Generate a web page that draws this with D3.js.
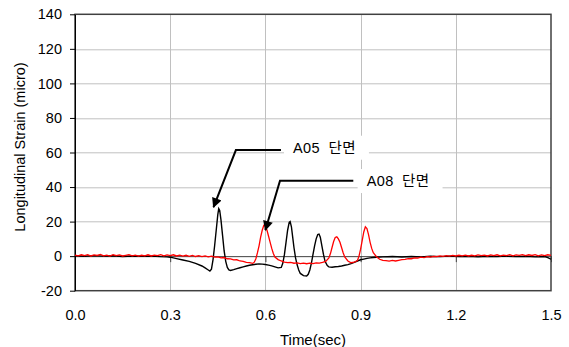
<!DOCTYPE html>
<html>
<head>
<meta charset="utf-8">
<script src="https://cdn.jsdelivr.net/npm/d3@7"></script>
<style>
  html, body { margin: 0; padding: 0; background: #fff; }
  svg { display: block; font-family: "Liberation Sans", Arial, "Noto Sans CJK KR", sans-serif; }
</style>
</head>
<body>
<div id="chart"></div>
<script>
// tick values
const X_TICKS = [0, 0.3, 0.6, 0.9, 1.2, 1.5]
const Y_TICKS = [-20, 0, 20, 40, 60, 80, 100, 120, 140]

// A05 section, black trace [time (sec), strain (micro)]
const a05 = [
  [0.00, 0.2], [0.03, -0.1], [0.06, 0.3], [0.09, 0.0], [0.12, 0.2], [0.15, -0.2], [0.18, 0.1],
  [0.21, -0.1], [0.24, 0.0], [0.27, -0.3], [0.29, -0.4], [0.30, -0.6], [0.32, -1.4], [0.34, -2.2],
  [0.36, -3.0], [0.38, -4.2], [0.40, -5.7], [0.41, -6.8], [0.42, -8.0], [0.425, -8.6], [0.43, -7.5],
  [0.435, -2], [0.44, 6], [0.445, 15], [0.45, 24], [0.453, 27.5], [0.456, 26.5], [0.46, 21],
  [0.465, 12], [0.47, 3], [0.475, -3], [0.48, -6.5], [0.485, -8.0], [0.49, -8.3], [0.50, -7.8],
  [0.51, -7.2], [0.52, -6.7], [0.53, -6.2], [0.54, -5.7], [0.55, -5.3], [0.56, -5.0], [0.57, -4.7],
  [0.58, -4.5], [0.59, -4.6], [0.60, -4.8], [0.61, -5.2], [0.62, -5.6], [0.63, -6.2], [0.64, -6.8],
  [0.65, -6.5], [0.655, -4], [0.66, 1], [0.665, 8], [0.67, 15], [0.675, 19.5], [0.678, 20],
  [0.682, 17], [0.686, 11], [0.69, 5], [0.695, -1], [0.70, -5], [0.705, -8], [0.71, -10],
  [0.72, -11.3], [0.73, -11.5], [0.735, -10.5], [0.74, -8], [0.745, -4], [0.75, 1], [0.755, 6],
  [0.76, 10], [0.765, 12.5], [0.769, 12.8], [0.773, 11], [0.778, 6], [0.783, 1], [0.788, -3],
  [0.795, -5.5], [0.80, -6.2], [0.81, -6.4], [0.82, -6.1], [0.83, -6.0], [0.84, -5.7], [0.85, -5.3],
  [0.86, -4.9], [0.87, -4.3], [0.88, -3.6], [0.89, -2.8], [0.90, -2.1], [0.91, -1.7], [0.92, -1.3],
  [0.93, -1.0], [0.94, -0.8], [0.95, -0.6], [0.97, -0.4], [1.00, -0.2], [1.03, -0.5], [1.06, -0.2],
  [1.09, -0.4], [1.12, -0.1], [1.15, -0.3], [1.18, 0.0], [1.21, -0.3], [1.24, -0.1], [1.27, -0.4],
  [1.30, -0.1], [1.33, -0.3], [1.36, 0.0], [1.39, -0.3], [1.42, -0.1], [1.45, -0.4], [1.48, -0.2],
  [1.49, -0.8], [1.50, -1.8]
]

// A08 section, red trace [time (sec), strain (micro)]
const a08 = [
  [0.00, 0.6], [0.01, 0.2], [0.02, 0.8], [0.03, 0.3], [0.04, 0.9], [0.05, 0.1], [0.06, 0.7],
  [0.07, 0.4], [0.08, 1.0], [0.09, 0.2], [0.10, 0.6], [0.11, 0.0], [0.12, 0.8], [0.13, 0.3],
  [0.14, 0.7], [0.15, 0.1], [0.16, 0.5], [0.17, 0.9], [0.18, 0.2], [0.19, 0.6], [0.20, 0.0],
  [0.21, 0.5], [0.22, 0.2], [0.23, 0.8], [0.24, 0.1], [0.25, 0.6], [0.26, 0.3], [0.27, 0.9],
  [0.28, 0.2], [0.29, 0.7], [0.30, 0.3], [0.31, 0.8], [0.32, 0.1], [0.33, 0.6], [0.34, 0.0],
  [0.35, 0.5], [0.36, -0.1], [0.37, 0.4], [0.38, -0.2], [0.39, 0.3], [0.40, -0.3], [0.41, 0.1],
  [0.42, -0.4], [0.43, 0.0], [0.44, -0.6], [0.45, -0.4], [0.46, -1.0], [0.47, -0.8], [0.48, -1.5],
  [0.49, -1.6], [0.50, -2.2], [0.51, -2.1], [0.52, -2.8], [0.53, -3.0], [0.54, -3.6], [0.55, -3.8],
  [0.56, -4.2], [0.565, -3.5], [0.57, -1.5], [0.575, 2], [0.58, 6], [0.585, 11], [0.59, 15],
  [0.595, 17.8], [0.60, 17.5], [0.605, 15], [0.61, 11.5], [0.615, 8], [0.62, 4.5], [0.625, 1.5],
  [0.63, -0.5], [0.64, -2], [0.65, -2.8], [0.66, -3.4], [0.67, -3.8], [0.68, -3.6], [0.69, -4.1],
  [0.70, -3.9], [0.71, -4.3], [0.72, -4.0], [0.73, -4.4], [0.74, -4.1], [0.75, -4.3], [0.76, -3.9],
  [0.77, -4.0], [0.78, -3.6], [0.79, -3.0], [0.80, -1.0], [0.805, 1.5], [0.81, 5], [0.815, 8.5],
  [0.82, 10.8], [0.825, 11.2], [0.83, 10], [0.835, 8], [0.84, 5], [0.845, 2], [0.85, -0.5],
  [0.86, -2.8], [0.87, -3.8], [0.88, -3.5], [0.89, -2.5], [0.895, 0], [0.90, 4], [0.905, 9],
  [0.91, 14], [0.915, 17], [0.92, 16], [0.925, 12.5], [0.93, 8], [0.935, 4.5], [0.94, 2],
  [0.95, -0.3], [0.96, -1.8], [0.97, -2.4], [0.98, -2.6], [0.99, -2.9], [1.00, -2.5], [1.01, -2.8],
  [1.02, -2.4], [1.03, -2.0], [1.04, -1.9], [1.05, -1.4], [1.06, -1.5], [1.07, -1.0], [1.08, -1.1],
  [1.09, -0.6], [1.10, -0.8], [1.11, -0.3], [1.12, -0.5], [1.13, -0.1], [1.14, -0.3], [1.15, 0.2],
  [1.16, -0.1], [1.17, 0.3], [1.18, 0.0], [1.19, 0.4], [1.20, 0.1], [1.21, 0.5], [1.22, 0.2],
  [1.23, 0.6], [1.24, 0.1], [1.25, 0.5], [1.26, 0.2], [1.27, 0.7], [1.28, 0.3], [1.29, 0.6],
  [1.30, 0.1], [1.31, 0.7], [1.32, 0.3], [1.33, 0.8], [1.34, 0.2], [1.35, 0.6], [1.36, 0.3],
  [1.37, 0.9], [1.38, 0.2], [1.39, 0.7], [1.40, 0.4], [1.41, 0.9], [1.42, 0.3], [1.43, 0.8],
  [1.44, 0.4], [1.45, 0.9], [1.46, 0.2], [1.47, 0.7], [1.48, 0.3], [1.49, 0.8], [1.50, 0.4]
]

// callouts in data units: arrow tip, elbow, end of horizontal leader, label
const callouts = [
  { label: 'A05 단면', tip: [0.4365, 28.4], elbow: [0.507, 61.4], end: [0.649, 61.4], text: [0.687, 62.9] },
  { label: 'A08 단면', tip: [0.600, 15.1], elbow: [0.646, 43.6], end: [0.877, 43.6], text: [0.919, 43.6] }
]

const W = 569, H = 347
const margin = { top: 14.3, right: 18, bottom: 56.3, left: 75 }
const width = W - margin.left - margin.right
const height = H - margin.top - margin.bottom

const svg = d3.select('#chart').append('svg')
  .attr('width', W)
  .attr('height', H)

svg.append('rect').attr('width', W).attr('height', H).attr('fill', '#fff')

const g = svg.append('g').attr('transform', `translate(${margin.left},${margin.top})`)

const x = d3.scaleLinear().domain([0, 1.5]).range([0, width])
const y = d3.scaleLinear().domain([-20, 140]).range([height, 0])

// gridlines
g.append('g').selectAll('line')
  .data(Y_TICKS.filter(v => v > 0 && v < 140))
  .join('line')
  .attr('x1', 0).attr('x2', width)
  .attr('y1', d => Math.round(y(d)) + 0.5).attr('y2', d => Math.round(y(d)) + 0.5)
  .attr('stroke', '#c0c0c0')
g.append('g').selectAll('line')
  .data(X_TICKS.filter(v => v > 0 && v < 1.5))
  .join('line')
  .attr('x1', d => Math.round(x(d)) + 0.5).attr('x2', d => Math.round(x(d)) + 0.5)
  .attr('y1', 0).attr('y2', height)
  .attr('stroke', '#c0c0c0')

// plot frame
g.append('rect')
  .attr('width', width).attr('height', height)
  .attr('fill', 'none').attr('stroke', '#404040').attr('stroke-width', 1.5)

// zero line with tick marks
const zeroAxis = g.append('g')
  .attr('transform', `translate(0,${y(0)})`)
  .call(d3.axisBottom(x).tickValues(X_TICKS).tickSize(6).tickSizeOuter(0).tickFormat(''))
zeroAxis.select('.domain').attr('stroke', '#404040')
zeroAxis.selectAll('.tick line').attr('stroke', '#404040')

// x tick labels below the plot
const xLab = g.append('g')
  .attr('transform', `translate(0,${height})`)
  .call(d3.axisBottom(x).tickValues(X_TICKS).tickSize(0).tickPadding(19).tickFormat(d => d.toFixed(1)))
xLab.select('.domain').remove()
xLab.selectAll('text').attr('font-size', '14.5px').attr('fill', '#000')
  .style('font-family', '"Liberation Sans", Arial, sans-serif')

// y axis
const yAx = g.append('g')
  .call(d3.axisLeft(y).tickValues(Y_TICKS).tickSize(5).tickSizeOuter(0).tickPadding(8).tickFormat(d => String(d)))
yAx.select('.domain').attr('stroke', '#000')
yAx.selectAll('.tick line').attr('stroke', '#000')
yAx.selectAll('text').attr('font-size', '14.5px').attr('fill', '#000')
  .style('font-family', '"Liberation Sans", Arial, sans-serif')

// traces
const line = d3.line().x(d => x(d[0])).y(d => y(d[1]))
g.append('path').datum(a05)
  .attr('d', line).attr('fill', 'none').attr('stroke', '#000').attr('stroke-width', 1.4)
g.append('path').datum(a08)
  .attr('d', line).attr('fill', 'none').attr('stroke', '#ff0000').attr('stroke-width', 1.3)

// arrow marker
svg.append('defs').append('marker')
  .attr('id', 'arrow')
  .attr('viewBox', '0 0 10 10')
  .attr('refX', 9).attr('refY', 5)
  .attr('markerUnits', 'userSpaceOnUse')
  .attr('markerWidth', 11).attr('markerHeight', 10)
  .attr('orient', 'auto')
  .append('path').attr('d', 'M0,0 L10,5 L0,10 Z').attr('fill', '#000')

// callouts
callouts.forEach(c => {
  const box = g.append('rect').attr('fill', '#fff')
  const t = g.append('text')
    .attr('x', x(c.text[0])).attr('y', y(c.text[1]))
    .attr('dy', '0.36em')
    .attr('font-size', '14.5px')
    .attr('word-spacing', '4px')
    .attr('letter-spacing', '0.4px')
    .attr('fill', '#000')
    .text(c.label)
  const bb = t.node().getBBox()
  box.attr('x', bb.x - 9).attr('y', bb.y + bb.height / 2 - 12)
    .attr('width', bb.width + 22).attr('height', 24)
  g.append('path')
    .attr('d', d3.line()([[x(c.end[0]), y(c.end[1])], [x(c.elbow[0]), y(c.elbow[1])], [x(c.tip[0]), y(c.tip[1])]]))
    .attr('fill', 'none').attr('stroke', '#000').attr('stroke-width', 2)
    .attr('marker-end', 'url(#arrow)')
})

// axis titles
svg.append('text')
  .attr('x', margin.left + width / 2).attr('y', 340)
  .attr('dy', '0.36em')
  .attr('text-anchor', 'middle')
  .attr('font-size', '15px')
  .text('Time(sec)')

svg.append('text')
  .attr('transform', 'translate(20,147) rotate(-90)')
  .attr('dy', '0.36em')
  .attr('text-anchor', 'middle')
  .attr('font-size', '14.5px')
  .text('Longitudinal Strain (micro)')
</script>
</body>
</html>
